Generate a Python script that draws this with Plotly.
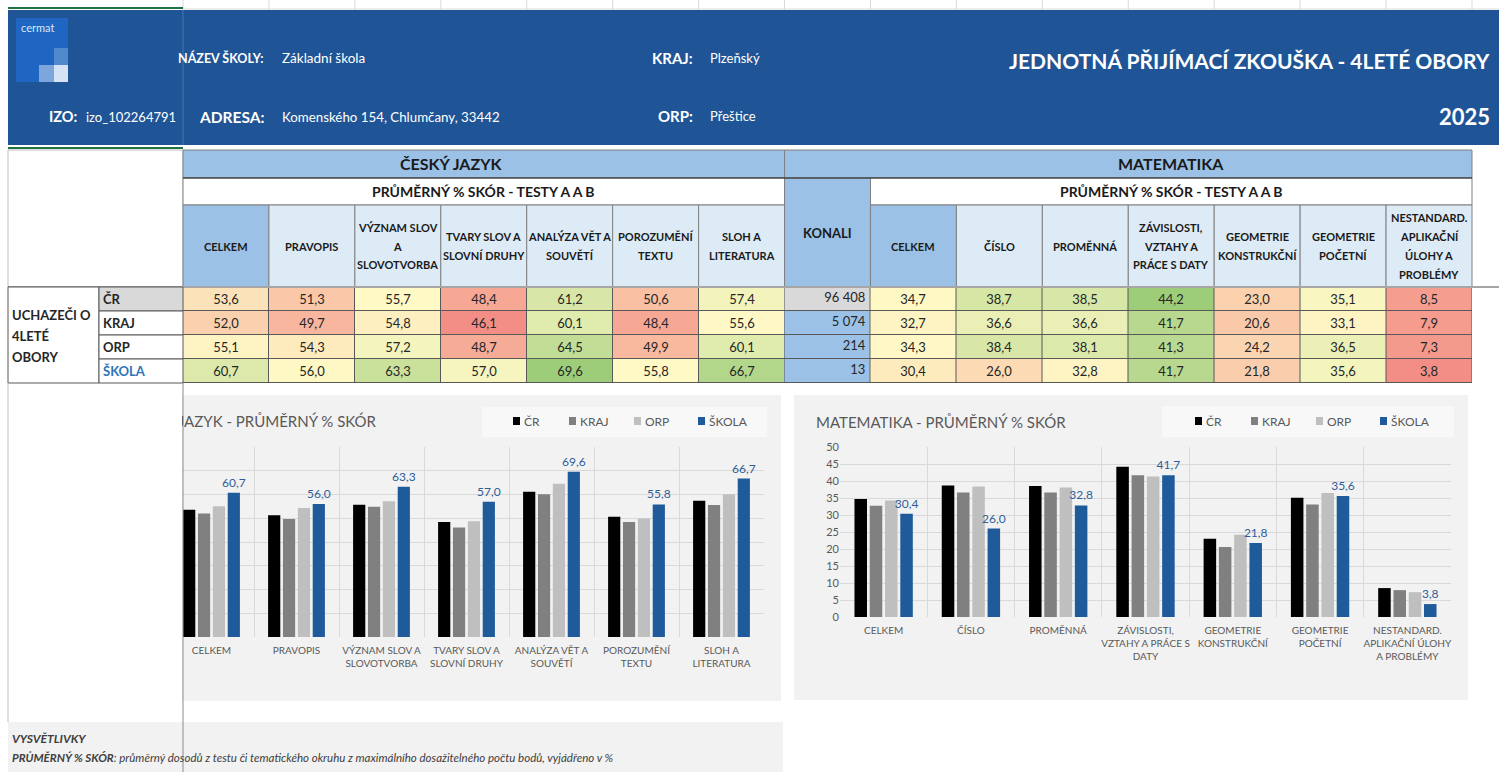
import numpy as np
import plotly.graph_objects as go

W, H = 1499, 772
FONT = "Lato, Carlito, Calibri, sans-serif"

# ---------------- data ----------------
series = ["ČR", "KRAJ", "ORP", "ŠKOLA"]
series_colors = ["#000000", "#808080", "#BFBFBF", "#1F5B9B"]

cj_cols = ["CELKEM", "PRAVOPIS", "VÝZNAM SLOV|A|SLOVOTVORBA", "TVARY SLOV A|SLOVNÍ DRUHY",
           "ANALÝZA VĚT A|SOUVĚTÍ", "POROZUMĚNÍ|TEXTU", "SLOH A|LITERATURA"]
cj_ticks = ["CELKEM", "PRAVOPIS", "VÝZNAM SLOV A<br>SLOVOTVORBA", "TVARY SLOV A<br>SLOVNÍ DRUHY",
            "ANALÝZA VĚT A<br>SOUVĚTÍ", "POROZUMĚNÍ<br>TEXTU", "SLOH A<br>LITERATURA"]
ma_cols = ["CELKEM", "ČÍSLO", "PROMĚNNÁ", "ZÁVISLOSTI,|VZTAHY A|PRÁCE S DATY", "GEOMETRIE|KONSTRUKČNÍ",
           "GEOMETRIE|POČETNÍ", "NESTANDARD.|APLIKAČNÍ|ÚLOHY A|PROBLÉMY"]
ma_ticks = ["CELKEM", "ČÍSLO", "PROMĚNNÁ", "ZÁVISLOSTI,<br>VZTAHY A PRÁCE S<br>DATY", "GEOMETRIE<br>KONSTRUKČNÍ",
            "GEOMETRIE<br>POČETNÍ", "NESTANDARD.<br>APLIKAČNÍ ÚLOHY<br>A PROBLÉMY"]

cj_cr = [53.6, 51.3, 55.7, 48.4, 61.2, 50.6, 57.4]
cj_kraj = [52.0, 49.7, 54.8, 46.1, 60.1, 48.4, 55.6]
cj_orp = [55.1, 54.3, 57.2, 48.7, 64.5, 49.9, 60.1]
cj_skola = [60.7, 56.0, 63.3, 57.0, 69.6, 55.8, 66.7]

konali = [96408, 5074, 214, 13]

ma_cr = [34.7, 38.7, 38.5, 44.2, 23.0, 35.1, 8.5]
ma_kraj = [32.7, 36.6, 36.6, 41.7, 20.6, 33.1, 7.9]
ma_orp = [34.3, 38.4, 38.1, 41.3, 24.2, 36.5, 7.3]
ma_skola = [30.4, 26.0, 32.8, 41.7, 21.8, 35.6, 3.8]

school_name = "Základní škola"
school_addr = "Komenského 154, Chlumčany, 33442"
izo = "izo_102264791"
kraj = "Plzeňský"
orp = "Přeštice"
title = "JEDNOTNÁ PŘIJÍMACÍ ZKOUŠKA - 4LETÉ OBORY"
year = "2025"


# ---------------- helpers ----------------
def px(x):
    return x / W


def py(y):
    return 1 - y / H


def fmt(v):
    return f"{v:.1f}".replace(".", ",")


def fmt_int(n):
    return f"{n:,}".replace(",", " ")


shapes = []
annotations = []


def rect(x0, y0, x1, y1, fill, line=None, lw=1, layer="above"):
    shapes.append(dict(type="rect", xref="paper", yref="paper", x0=px(x0), x1=px(x1), y0=py(y1), y1=py(y0),
                       fillcolor=fill, line=dict(color=line if line else fill, width=lw if line else 0),
                       layer=layer))


def hline(x0, x1, y, color, w=1, layer="above"):
    shapes.append(dict(type="line", xref="paper", yref="paper", x0=px(x0), x1=px(x1), y0=py(y), y1=py(y),
                       line=dict(color=color, width=w), layer=layer))


def vline(x, y0, y1, color, w=1, layer="above"):
    shapes.append(dict(type="line", xref="paper", yref="paper", x0=px(x), x1=px(x), y0=py(y0), y1=py(y1),
                       line=dict(color=color, width=w), layer=layer))


def text(x, y, s, size, color="#262626", bold=False, italic=False, anchor="center"):
    if italic:
        s = f"<i>{s}</i>"
    if bold:
        s = f"<b>{s}</b>"
    annotations.append(dict(xref="paper", yref="paper", x=px(x), y=py(y), text=s, showarrow=False,
                            xanchor=anchor, yanchor="middle", font=dict(family=FONT, size=size, color=color)))


fig = go.Figure()

# ---------------- excel gridlines / header ----------------
TX0, TX1 = 183, 1472
CW = (TX1 - TX0) / 15
hline(TX0, W, 9, "#DADADA")
for k in range(17):
    vline(TX0 + k * CW, 0, 10, "#DADADA")
HEAD = "#1F5596"
rect(8, 10, W, 145, HEAD)
vline(183, 10, 145, "#4676B2")
hline(8, 183, 8, "#217346", 2)
hline(8, 183, 148, "#217346", 2)
# logo
rect(16, 18, 68, 82, "#1E66C1")
rect(54, 48, 68, 65, "#5189CF")
rect(39, 65, 54, 82, "#7DA6DC")
rect(54, 65, 68, 82, "#D5E3F5")
text(19, 27, "cermat", 11, "#DDE8F7", anchor="left")

text(79, 117, "IZO:", 14.5, "white", bold=True, anchor="right")
text(84, 117, izo, 13, "white", anchor="left")
text(266, 58, "NÁZEV ŠKOLY:", 12.5, "white", bold=True, anchor="right")
text(280, 58, school_name, 13.5, "white", anchor="left")
text(266, 117, "ADRESA:", 15.5, "white", bold=True, anchor="right")
text(280, 117, school_addr, 13.3, "white", anchor="left")
text(695, 58, "KRAJ:", 15, "white", bold=True, anchor="right")
text(708, 58, kraj, 13, "white", anchor="left")
text(695, 116, "ORP:", 15, "white", bold=True, anchor="right")
text(708, 116, orp, 13, "white", anchor="left")
text(1492, 60, title, 21, "white", bold=True, anchor="right")
text(1492, 117, year, 22, "white", bold=True, anchor="right")

# ---------------- table header ----------------
DARKB = "#9BC2E6"
LIGHTB = "#DDEBF7"
GRID = "#808080"
rect(8, 150, 183, 287, "white", "#BFBFBF")
x_cj1 = TX0 + 7 * CW
x_k1 = TX0 + 8 * CW
rect(TX0, 150, x_cj1, 178, DARKB, GRID)
rect(x_cj1, 150, TX1, 178, DARKB, GRID)
rect(TX0, 178, x_cj1, 205, "white", GRID)
rect(x_k1, 178, TX1, 205, "white", GRID)
rect(x_cj1, 178, x_k1, 287, DARKB, GRID)
hline(TX0, TX1, 178, "#262626")
for i, lab in enumerate(cj_cols):
    x0 = TX0 + i * CW
    rect(x0, 205, x0 + CW, 287, DARKB if i == 0 else LIGHTB, GRID)
for i, lab in enumerate(ma_cols):
    x0 = TX0 + (8 + i) * CW
    rect(x0, 205, x0 + CW, 287, DARKB if i == 0 else LIGHTB, GRID)


def col_label(cx, lab):
    lines = lab.split("|")
    n = len(lines)
    for k, ln in enumerate(lines):
        text(cx, 246 + (k - (n - 1) / 2) * 18.7, ln, 11, "#1A1A1A", bold=True)


for i, lab in enumerate(cj_cols):
    col_label(TX0 + (i + 0.5) * CW, lab)
for i, lab in enumerate(ma_cols):
    col_label(TX0 + (8 + i + 0.5) * CW, lab)

text(451, 164, "ČESKÝ JAZYK", 16, "#1A1A1A", bold=True)
text(TX0 + 11.5 * CW, 164, "MATEMATIKA", 16, "#1A1A1A", bold=True)
text((TX0 + x_cj1) / 2, 191, "PRŮMĚRNÝ % SKÓR - TESTY A A B", 14, "#1A1A1A", bold=True)
text((x_k1 + TX1) / 2, 191, "PRŮMĚRNÝ % SKÓR - TESTY A A B", 14, "#1A1A1A", bold=True)
text((x_cj1 + x_k1) / 2, 233, "KONALI", 13, "#1A1A1A", bold=True)
hline(8, W, 287, "#A6A6A6", 2)

# ---------------- table body ----------------
RT, RH = 287, 24
RB = RT + 4 * RH
rect(8, RT, 99, RB, "white", "#595959")
for r, s in enumerate(series):
    rect(99, RT + r * RH, 183, RT + (r + 1) * RH, "#D9D9D9" if r == 0 else "white", "#595959")
    text(101, RT + (r + 0.5) * RH, s, 13, "#2E75B6" if s == "ŠKOLA" else "#262626", bold=True, anchor="left")
for k, ln in enumerate(["UCHAZEČI O", "4LETÉ", "OBORY"]):
    text(10, 315 + k * 21, ln, 13, "#262626", bold=True, anchor="left")
rect(TX0, RT, TX1, RB, "#595959", layer="below")

RED, YEL, GRN = "rgb(243,142,134)", "rgb(255,249,198)", "rgb(158,205,122)"


def scale3(vals):
    a = np.array(vals, dtype=float).ravel()
    lo, hi, mid = a.min(), a.max(), np.percentile(a, 50)
    p = (mid - lo) / (hi - lo)
    return [[0, RED], [p, YEL], [1, GRN]], lo, hi


cj_z = [cj_cr, cj_kraj, cj_orp, cj_skola]
ma_z = [ma_cr, ma_kraj, ma_orp, ma_skola]
for z, xs in ((cj_z, list(range(0, 7))), (ma_z, list(range(8, 15)))):
    cs, lo, hi = scale3(z)
    fig.add_trace(go.Heatmap(z=z, x=xs, y=list(range(4)), colorscale=cs, zmin=lo, zmax=hi, showscale=False,
                             xgap=1, ygap=1, text=[[fmt(v) for v in row] for row in z], texttemplate="%{text}",
                             textfont=dict(family=FONT, size=13, color="#262626"), hoverinfo="skip",
                             xaxis="x3", yaxis="y3"))
fig.add_trace(go.Heatmap(z=[[0 if r == 0 else 1] for r in range(4)], x=[7], y=list(range(4)),
                         colorscale=[[0, "#D9D9D9"], [0.5, "#D9D9D9"], [0.5, DARKB], [1, DARKB]],
                         zmin=0, zmax=1, showscale=False, xgap=1, ygap=1, hoverinfo="skip",
                         xaxis="x3", yaxis="y3"))
fig.add_trace(go.Scatter(x=[7.44] * 4, y=list(range(4)), mode="text", text=[fmt_int(n) for n in konali],
                         textposition="middle left", textfont=dict(family=FONT, size=13, color="#262626"),
                         hoverinfo="skip", xaxis="x3", yaxis="y3", cliponaxis=False))

# ---------------- charts ----------------
rect(100, 395, 781, 701, "#F2F2F2", layer="below")
rect(794, 395, 1468, 700, "#F2F2F2", layer="below")
rect(482, 407, 767, 437, "#F8F8F8", layer="below")
rect(1162, 406, 1454, 437, "#F8F8F8", layer="below")
LEG_OFF = [0, 56, 121, 185]
for lx in (513, 1195):
    for k, s in enumerate(series):
        x0 = lx + LEG_OFF[k]
        rect(x0, 417, x0 + 7, 425, series_colors[k])
        text(x0 + 9, 421, s, 12, "#595959", anchor="left")

text(379, 421, "ČESKÝ JAZYK - PRŮMĚRNÝ % SKÓR", 15, "#595959", anchor="right")
text(814, 422, "MATEMATIKA - PRŮMĚRNÝ % SKÓR", 15, "#595959", anchor="left")

for (vals_list, ticks, xa, ya) in (([cj_cr, cj_kraj, cj_orp, cj_skola], cj_ticks, "x", "y"),
                                  ([ma_cr, ma_kraj, ma_orp, ma_skola], ma_ticks, "x2", "y2")):
    for k, vals in enumerate(vals_list):
        is_school = series[k] == "ŠKOLA"
        fig.add_trace(go.Bar(x=ticks, y=vals, name=series[k], marker=dict(color=series_colors[k], line=dict(width=0)),
                             text=[fmt(v) for v in vals] if is_school else None,
                             textposition="outside" if is_school else "none",
                             textfont=dict(family=FONT, size=12, color="#2E5E99"),
                             constraintext="none", cliponaxis=False, hoverinfo="skip",
                             xaxis=xa, yaxis=ya))

axis_common = dict(type="category", tickson="boundaries", showgrid=True, gridcolor="#D9D9D9", gridwidth=1,
                   ticks="", showline=False, zeroline=False, tickangle=0, ticklabelstandoff=6,
                   tickfont=dict(family=FONT, size=10, color="#595959"), fixedrange=True)

fig.update_layout(
    width=W, height=H, margin=dict(l=0, r=0, t=0, b=0, pad=0, autoexpand=False), autosize=False,
    paper_bgcolor="white", plot_bgcolor="rgba(0,0,0,0)", showlegend=False,
    barmode="group", bargap=0.3, bargroupgap=0.18,
    font=dict(family=FONT),
    xaxis=dict(domain=[px(169), px(764)], anchor="y", **axis_common),
    yaxis=dict(domain=[py(637), py(447)], anchor="x", range=[0, 80], dtick=10, gridcolor="#D9D9D9",
               showticklabels=False, zeroline=False, showline=False, ticks="", fixedrange=True),
    xaxis2=dict(domain=[px(840), px(1451)], anchor="y2", **axis_common),
    yaxis2=dict(domain=[py(617), py(447)], anchor="x2", range=[0, 50], dtick=5, gridcolor="#D9D9D9",
                zeroline=False, showline=False, ticks="", tickfont=dict(family=FONT, size=11, color="#595959"),
                fixedrange=True),
    xaxis3=dict(domain=[px(TX0), px(TX1)], anchor="y3", range=[-0.5, 14.5], visible=False, fixedrange=True),
    yaxis3=dict(domain=[py(RB), py(RT)], anchor="x3", range=[3.5, -0.5], visible=False, fixedrange=True),
)

# cover for frozen left pane below the table
annotations.append(dict(xref="paper", yref="paper", x=px(9), y=py(RB + 0.5), xanchor="left", yanchor="top",
                        width=173, height=338, text=" ", bgcolor="white", borderpad=0, borderwidth=0,
                        showarrow=False))
vline(8, RB, 722, "#BFBFBF")
rect(8, 722, 783, 772, "#F2F2F2")
vline(183, RB, H, "#8C8C8C")
text(10, 738, "VYSVĚTLIVKY", 12, "#404040", bold=True, italic=True, anchor="left")
text(10, 757, "<b>PRŮMĚRNÝ % SKÓR</b>: průměrný dosodů z testu či tematického okruhu z maximálního "
              "dosažitelného počtu bodů, vyjádřeno v %", 11.5, "#404040", italic=True, anchor="left")

fig.update_layout(shapes=shapes, annotations=annotations)
fig.write_html("out.html", config={"displayModeBar": False},
               post_script="document.body.style.margin='0';document.body.style.overflow='hidden';")
